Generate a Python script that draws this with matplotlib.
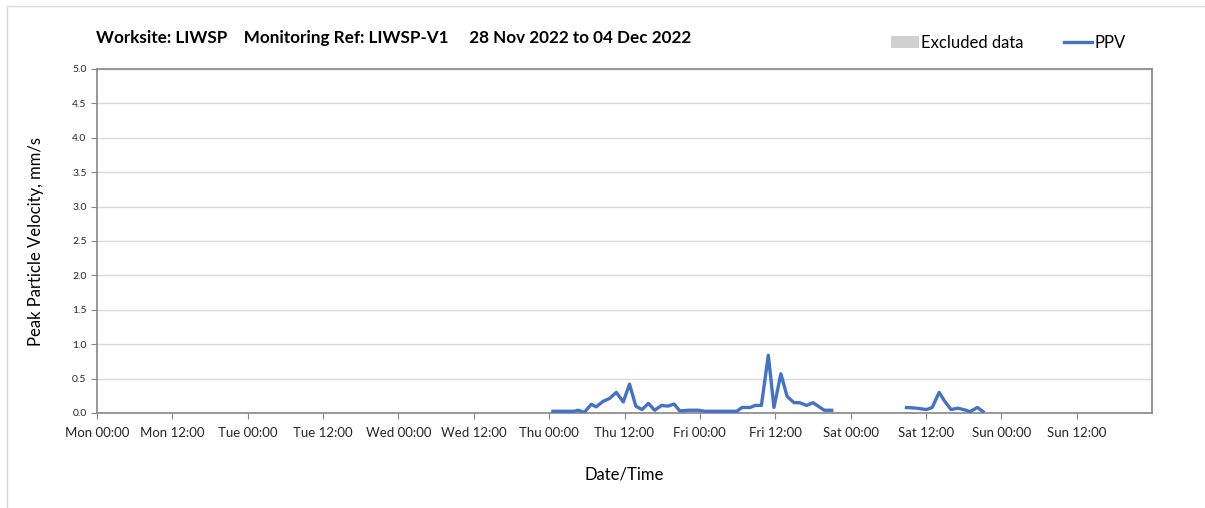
import matplotlib.pyplot as plt
from matplotlib.patches import Patch
from matplotlib.lines import Line2D
from matplotlib.ticker import MultipleLocator

plt.rcParams['font.family'] = ['Lato', 'DejaVu Sans']

# -----------------------------
# PPV readings (hours since Mon 28 Nov 00:00), gaps split into segments
# -----------------------------
thu_fri_hours = [72.6, 74, 76, 76.6, 77.6, 78.7, 79.5, 80.6, 81.6, 82.7, 83.8, 84.8,
                 85.8, 86.8, 87.8, 88.8, 89.9, 90.9, 91.9, 92.8, 94.2, 95.8, 96.8,
                 98, 100, 101.9, 102.7, 104, 104.8, 105.8, 106.9, 107.8, 108.9,
                 109.9, 111, 111.9, 113, 114, 115, 115.8, 117]
thu_fri_ppv = [0.025, 0.025, 0.025, 0.04, 0.01, 0.126, 0.09, 0.17, 0.21, 0.30, 0.16, 0.42,
               0.10, 0.05, 0.14, 0.04, 0.11, 0.10, 0.13, 0.03, 0.04, 0.04, 0.025,
               0.025, 0.025, 0.025, 0.08, 0.08, 0.11, 0.11, 0.84, 0.08, 0.57,
               0.24, 0.15, 0.15, 0.11, 0.15, 0.09, 0.04, 0.04]

sat_hours = [128.9, 130.5, 132.1, 133, 134.1, 135, 136, 137.1, 138.2, 139, 140.2, 141.1]
sat_ppv = [0.08, 0.07, 0.05, 0.08, 0.30, 0.17, 0.05, 0.07, 0.045, 0.02, 0.08, 0.02]

tick_labels = ["Mon 00:00", "Mon 12:00", "Tue 00:00", "Tue 12:00", "Wed 00:00",
               "Wed 12:00", "Thu 00:00", "Thu 12:00", "Fri 00:00", "Fri 12:00",
               "Sat 00:00", "Sat 12:00", "Sun 00:00", "Sun 12:00"]

PPV_BLUE = "#4472C4"
GRID = "#d9d9d9"
AXIS = "#868686"

# -----------------------------
# Plot
# -----------------------------
fig = plt.figure(figsize=(12.05, 5.08), dpi=100)
ax = fig.add_axes([97 / 1205, 1 - 413 / 508, (1152 - 97) / 1205, (413 - 69) / 508])

for hrs, vals in [(thu_fri_hours, thu_fri_ppv), (sat_hours, sat_ppv)]:
    ax.plot(hrs, vals, color=PPV_BLUE, lw=2.4, solid_joinstyle="round", zorder=3)

ax.set_xlim(0, 168)
ax.set_ylim(0, 5)
ax.set_xticks([12 * i for i in range(len(tick_labels))])
ax.set_xticklabels(tick_labels, fontsize=9.5, color="#262626")
ax.xaxis.set_minor_locator(MultipleLocator(24))
ax.yaxis.set_major_locator(MultipleLocator(0.5))
ax.yaxis.set_major_formatter(lambda v, p: f"{v:.1f}")
ax.tick_params(axis="y", labelsize=7.5, length=4, color=AXIS, labelcolor="#262626")
ax.tick_params(axis="x", which="major", length=4, color=AXIS, pad=6)
ax.tick_params(axis="x", which="minor", length=0)
ax.grid(axis="y", which="major", color=GRID, lw=1)
ax.grid(axis="x", which="minor", color=GRID, lw=1)
ax.set_axisbelow(True)
for s in ax.spines.values():
    s.set_color(AXIS)
    s.set_linewidth(1.2)

ax.set_ylabel("Peak Particle Velocity, mm/s", fontsize=12, labelpad=20)
ax.set_xlabel("Date/Time", fontsize=12, labelpad=20)

fig.text(96 / 1205, 1 - 38 / 508,
         "Worksite: LIWSP    Monitoring Ref: LIWSP-V1     28 Nov 2022 to 04 Dec 2022",
         fontsize=12.3, fontweight="bold", va="center", ha="left")

handles = [Patch(facecolor="#d0d0d0", edgecolor="none", label="Excluded data"),
           Line2D([], [], color=PPV_BLUE, lw=2.4, label="PPV")]
fig.legend(handles=handles, loc="center right", bbox_to_anchor=(1141 / 1205, 1 - 43 / 508),
           ncol=2, frameon=False, fontsize=12, handlelength=1.7, handletextpad=0.15,
           columnspacing=2.4)

# outer chart border
fig.add_artist(plt.Line2D([7 / 1205, 7 / 1205], [0, 1 - 6 / 508], transform=fig.transFigure,
                          color="#d9d9d9", lw=1))
fig.add_artist(plt.Line2D([7 / 1205, 1], [1 - 6 / 508, 1 - 6 / 508], transform=fig.transFigure,
                          color="#d9d9d9", lw=1))

fig.savefig("out.png", dpi=100)
